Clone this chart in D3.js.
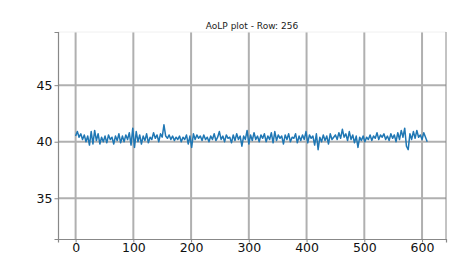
<!DOCTYPE html>
<html>
<head>
<meta charset="utf-8">
<script src="https://cdn.jsdelivr.net/npm/d3@7"></script>
<style>
  body { margin: 0; background: #fff; }
  svg { display: block; font-family: "DejaVu Sans", sans-serif; }
</style>
</head>
<body>
<svg id="chart"></svg>
<script>
var title = 'AoLP plot - Row: 256';
var xTicks = [0, 100, 200, 300, 400, 500, 600];
var yTicks = [35, 40, 45];
var xLimits = [-30.5, 641.5];
var yLimits = [31.4, 49.7];
var step = 3; // one reading every 3 columns

// AoLP values
var aolp = [
  40.5, 40.9, 40.4, 40.7, 40.2, 40.6, 40.0, 40.5, 39.7, 40.9, 39.8, 41.0,
  40.1, 40.7, 39.8, 40.4, 40.0, 40.5, 39.9, 40.6, 40.2, 40.4, 39.8, 40.5,
  40.1, 40.7, 39.9, 40.5, 40.0, 40.6, 40.2, 40.8, 39.7, 41.2, 39.5, 40.9,
  40.0, 40.6, 39.8, 40.5, 40.1, 40.7, 39.9, 40.4, 40.2, 40.8, 40.3, 40.6,
  40.0, 40.7, 40.4, 41.5, 40.5, 40.3, 40.6, 40.2, 40.5, 40.1, 40.4, 40.2,
  40.5, 40.0, 40.4, 40.2, 40.6, 39.8, 40.5, 39.5, 40.7, 40.2, 40.6, 40.3,
  40.5, 40.1, 40.6, 40.2, 40.4, 40.0, 40.5, 40.2, 40.7, 40.1, 40.4, 40.9,
  40.2, 40.5, 40.0, 40.6, 40.3, 40.4, 39.9, 40.6, 40.1, 40.7, 40.2, 40.5,
  39.6, 40.5, 40.2, 41.0, 39.8, 40.6, 40.1, 40.8, 40.2, 40.5, 40.0, 40.6,
  40.3, 40.7, 40.0, 40.5, 40.2, 40.8, 39.9, 40.9, 40.1, 40.6, 40.3, 40.5,
  39.8, 40.6, 40.2, 40.7, 40.0, 40.4, 40.3, 40.7, 39.9, 40.5, 40.1, 40.6,
  40.2, 40.9, 39.9, 40.6, 40.3, 40.5, 39.7, 40.7, 39.3, 40.4, 40.0, 40.6,
  40.1, 40.5, 39.8, 40.7, 40.2, 40.4, 40.6, 40.2, 40.8, 40.3, 41.1, 40.4,
  40.7, 40.1, 40.9, 40.2, 40.6, 39.9, 40.5, 39.5, 40.4, 40.1, 40.5, 40.0,
  40.4, 40.2, 40.6, 40.1, 40.5, 40.3, 40.8, 40.2, 40.6, 40.4, 40.7, 40.2,
  40.5, 40.1, 40.7, 40.3, 40.6, 40.0, 40.8, 40.2, 41.0, 40.4, 41.2, 39.6,
  39.3, 40.7, 40.2, 40.9, 40.3, 41.0, 40.4, 40.6, 40.2, 40.8, 40.4, 40.0
];

var W = 457, H = 256;
var margin = {top: 32, right: 11, bottom: 17, left: 58};
var width = W - margin.left - margin.right,
    height = H - margin.top - margin.bottom;

var svg = d3.select('#chart')
  .attr('width', W)
  .attr('height', H);

var x = d3.scaleLinear().domain(xLimits).range([0, width]);
var y = d3.scaleLinear().domain(yLimits).range([height, 0]);

var g = svg.append('g')
  .attr('transform', 'translate(' + margin.left + ',' + margin.top + ')');

// grid
g.append('g')
  .selectAll('line')
  .data(xTicks)
  .enter().append('line')
  .attr('x1', function(d) { return x(d); })
  .attr('x2', function(d) { return x(d); })
  .attr('y1', 0)
  .attr('y2', height)
  .attr('stroke', '#b0b0b0')
  .attr('stroke-width', 2);
g.append('g')
  .selectAll('line')
  .data(yTicks)
  .enter().append('line')
  .attr('x1', 0)
  .attr('x2', width)
  .attr('y1', function(d) { return y(d); })
  .attr('y2', function(d) { return y(d); })
  .attr('stroke', '#b0b0b0')
  .attr('stroke-width', 2);

// data line
var line = d3.line()
  .x(function(d, i) { return x(i * step); })
  .y(function(d) { return y(d); });
g.append('path')
  .datum(aolp)
  .attr('fill', 'none')
  .attr('stroke', '#1f77b4')
  .attr('stroke-width', 1.5)
  .attr('stroke-linejoin', 'round')
  .attr('d', line);

// spines
g.append('line').attr('x1', 0).attr('x2', width).attr('y1', 0).attr('y2', 0)
  .attr('stroke', '#f0f0f0');
g.append('line').attr('x1', width).attr('x2', width).attr('y1', 0).attr('y2', height)
  .attr('stroke', '#888');

// axes
var xAxis = d3.axisBottom(x).tickValues(xTicks).tickSize(3.5).tickPadding(1);
var yAxis = d3.axisLeft(y).tickValues(yTicks).tickSize(3.5).tickPadding(2);
var gx = g.append('g')
  .attr('transform', 'translate(0,' + height + ')')
  .call(xAxis);
var gy = g.append('g').call(yAxis);
[gx, gy].forEach(function(a) {
  a.select('.domain').attr('stroke', '#888').attr('stroke-width', 1.2);
  a.selectAll('.tick line').attr('stroke', '#888');
  a.selectAll('.tick text')
    .attr('fill', '#111')
    .style('font-size', '12.5px')
    .style('font-family', '"DejaVu Sans", sans-serif');
});

// title
svg.append('text')
  .attr('x', margin.left + width / 2)
  .attr('y', 29)
  .attr('text-anchor', 'middle')
  .attr('fill', '#222')
  .style('font-size', '9px')
  .text(title);
</script>
</body>
</html>
